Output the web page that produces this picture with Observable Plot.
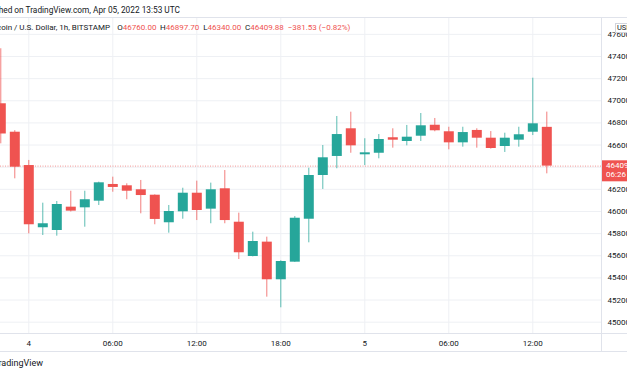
<!DOCTYPE html>
<html><head><meta charset="utf-8">
<script src="https://cdn.jsdelivr.net/npm/d3@7"></script>
<script src="https://cdn.jsdelivr.net/npm/@observablehq/plot@0.6"></script>
<style>
html,body{margin:0;padding:0;background:#fff;overflow:hidden;width:627px;height:376px;}
body{position:relative;font-family:Roboto,"Liberation Sans",sans-serif;color:#131722;}
.t{position:absolute;white-space:nowrap;font-size:8px;line-height:10px;}
.red{color:#ef5350;}
#chart{position:absolute;left:0;top:17px;}
#cur{position:absolute;left:615px;top:23px;height:8px;width:20px;border:1px solid #d1d4dc;background:#fff;font-size:7.5px;line-height:8px;padding-left:1px;color:#131722;}
</style></head>
<body>
<div class="t" id="l1" style="right:447px;top:5px;font-size:8.3px;">Published on TradingView.com, Apr 05, 2022 13:53 UTC</div>
<div id="chart"></div>
<div class="t" style="right:517px;top:22.7px;">Bitcoin / U.S. Dollar, 1h, BITSTAMP</div>
<div class="t" style="left:117.3px;top:22.7px;">O<span class="red">46760.00</span></div>
<div class="t" style="left:160px;top:22.7px;">H<span class="red">46897.70</span></div>
<div class="t" style="left:203.3px;top:22.7px;">L<span class="red">46340.00</span></div>
<div class="t" style="left:245px;top:22.7px;">C<span class="red">46409.88</span></div>
<div class="t red" style="left:287.7px;top:22.7px;">−381.53 (−0.82%)</div>
<div id="cur">USD</div>
<div class="t" style="right:584px;top:358px;font-size:9px;">TradingView</div>
<script>
// ---- data (Bitstamp BTC/USD, 1h candles, UTC) ----
const times = [
 "2022-04-03T22:00Z","2022-04-03T23:00Z",
 "2022-04-04T00:00Z","2022-04-04T01:00Z","2022-04-04T02:00Z","2022-04-04T03:00Z","2022-04-04T04:00Z",
 "2022-04-04T05:00Z","2022-04-04T06:00Z","2022-04-04T07:00Z","2022-04-04T08:00Z","2022-04-04T09:00Z",
 "2022-04-04T10:00Z","2022-04-04T11:00Z","2022-04-04T12:00Z","2022-04-04T13:00Z","2022-04-04T14:00Z",
 "2022-04-04T15:00Z","2022-04-04T16:00Z","2022-04-04T17:00Z","2022-04-04T18:00Z","2022-04-04T19:00Z",
 "2022-04-04T20:00Z","2022-04-04T21:00Z","2022-04-04T22:00Z","2022-04-04T23:00Z",
 "2022-04-05T00:00Z","2022-04-05T01:00Z","2022-04-05T02:00Z","2022-04-05T03:00Z","2022-04-05T04:00Z",
 "2022-04-05T05:00Z","2022-04-05T06:00Z","2022-04-05T07:00Z","2022-04-05T08:00Z","2022-04-05T09:00Z",
 "2022-04-05T10:00Z","2022-04-05T11:00Z","2022-04-05T12:00Z","2022-04-05T13:00Z"
];
const open  = [46973,46716,46415,45853,45828,46039,46033,46093,46244,46232,46196,46147,45898,45997,46165,46021,46205,45903,45593,45723,45383,45542,45930,46325,46497,46747,46512,46526,46666,46632,46680,46779,46720,46620,46732,46662,46587,46644,46716,46760.00];
const high  = [47470,46730,46461,46075,46090,46183,46183,46265,46310,46250,46280,46150,46054,46210,46274,46256,46370,45985,45813,45768,45555,45954,46391,46596,46858,46897,46657,46695,46747,46777,46885,46840,46761,46761,46747,46722,46707,46761,47204,46897.70];
const low   = [46611,46295,45798,45783,45777,45995,45858,46054,46174,46106,45979,45880,45804,45930,45918,45889,45889,45566,45590,45226,45130,45540,45717,46199,46386,46526,46415,46476,46572,46593,46632,46720,46557,46581,46572,46563,46533,46581,46686,46340.00];
const close = [46700,46400,45880,45889,46063,46003,46106,46259,46217,46183,46144,45928,46000,46165,46009,46196,45918,45627,45729,45383,45548,45939,46325,46485,46695,46593,46530,46650,46644,46671,46774,46729,46620,46713,46662,46569,46662,46693,46792,46409.88];

const yTicks = [45000,45200,45400,45600,45800,46000,46200,46400,46600,46800,47000,47200,47400,47600];
const xTickTimes  = ["2022-04-04T00:00Z","2022-04-04T06:00Z","2022-04-04T12:00Z","2022-04-04T18:00Z","2022-04-05T00:00Z","2022-04-05T06:00Z","2022-04-05T12:00Z"];
const xTickLabels = ["4","06:00","12:00","18:00","5","06:00","12:00"];
const lastPrice = 46409.88;
const countdown = "06:26";

const UP = "#26a69a", DOWN = "#ef5350", GRID = "#eef0f4", BORDER = "#e0e3eb";
const H = 3600e3;
const candles = times.map((t,i)=>({t:new Date(t),o:open[i],h:high[i],l:low[i],c:close[i]}));
const xTicks = xTickTimes.map(s=>new Date(s));
const labelMap = new Map(xTicks.map((d,i)=>[+d, xTickLabels[i]]));
const t0 = +new Date("2022-04-04T00:00Z");

const W = 627, HT = 335, MB = 19, MR = 26;
const chart = Plot.plot({
  width: W, height: HT,
  marginTop: 0, marginLeft: 0, marginRight: MR, marginBottom: MB,
  style: {fontFamily: 'Roboto,"Liberation Sans",sans-serif', fontSize: "8px", color: "#131722", background: "transparent", overflow: "visible"},
  x: {type: "utc", domain: [new Date(t0 - 2.021*H), new Date(t0 + 40.907*H)], axis: null},
  y: {domain: [44897.7, 47752.3], axis: null},
  marks: [
    Plot.gridY(yTicks, {stroke: GRID, strokeOpacity: 1}),
    Plot.gridX(xTicks, {stroke: GRID, strokeOpacity: 1}),
    Plot.ruleY([lastPrice], {stroke: DOWN, strokeDasharray: "1,1.5", strokeOpacity: 0.6}),
    Plot.ruleX(candles, {x: "t", y1: "l", y2: "h", stroke: d => d.c >= d.o ? UP : DOWN, strokeOpacity: 0.75, strokeWidth: 1}),
    Plot.ruleX(candles, {x: "t", y1: "o", y2: "c", stroke: d => d.c >= d.o ? UP : DOWN, strokeWidth: 10}),
    Plot.axisY(yTicks, {anchor: "right", tickSize: 0, tickPadding: 6, tickFormat: d3.format("d"), label: null, fontSize: 8, fill: "#131722"}),
    Plot.axisX(xTicks, {anchor: "bottom", tickSize: 0, tickPadding: 7, tickFormat: d => labelMap.get(+d), label: null, fontSize: 8, fill: "#131722"})
  ]
});
document.getElementById("chart").appendChild(chart);

// borders and current price label
const svg = d3.select(chart);
const plotRight = W - MR;
const line = (x1,y1,x2,y2) => svg.append("line").attr("x1",x1).attr("y1",y1).attr("x2",x2).attr("y2",y2).attr("stroke",BORDER).attr("stroke-width",1);
line(0,0.5,W,0.5);
line(0,HT-MB+0.5,W,HT-MB+0.5);
line(0,HT-0.5,W,HT-0.5);
line(plotRight+0.5,0,plotRight+0.5,HT);
const yScale = chart.scale("y");
const py = yScale.apply(lastPrice);
svg.append("rect").attr("x",plotRight+1).attr("y",py-5.3).attr("width",40).attr("height",21).attr("fill",DOWN);
svg.append("text").attr("x",plotRight+5).attr("y",py+2.8).attr("text-anchor","start").attr("fill","#fff").attr("font-size",8).text(lastPrice.toFixed(2));
svg.append("text").attr("x",plotRight+5).attr("y",py+11.8).attr("text-anchor","start").attr("fill","#fff").attr("font-size",8).text(countdown);
</script>
</body></html>
